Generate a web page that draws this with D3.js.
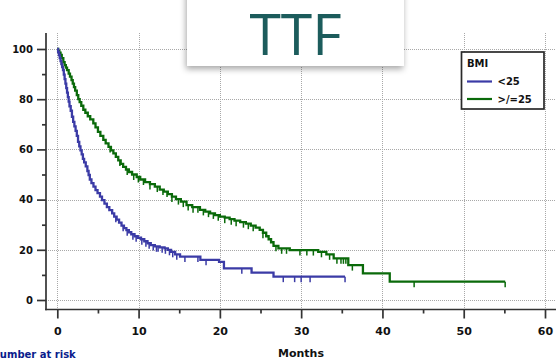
<!DOCTYPE html>
<html>
<head>
<meta charset="utf-8">
<script src="https://cdn.jsdelivr.net/npm/d3@7/dist/d3.min.js"></script>
<style>
  html, body { margin: 0; padding: 0; background: #fff; overflow: hidden; }
  svg { display: block; }
  text { font-family: "DejaVu Sans", sans-serif; font-weight: bold; fill: #111; }
</style>
</head>
<body>
<svg id="chart" width="556" height="359"></svg>
<script>
// ---- Data -----------------------------------------------------------
const title = "TTF";
const xTicks = [0, 10, 20, 30, 40, 50, 60];
const xMinorTicks = [5, 15, 25, 35, 45, 55];
const yTicks = [0, 20, 40, 60, 80, 100];
const yMinorTicks = [10, 30, 50, 70, 90];
const xLabel = "Months";
const riskLabel = "Number at risk";
const legendTitle = "BMI";
const groupNames = ["<25", ">/=25"];
const groupColors = ["#3b3ba6", "#0a6a0a"];

// Kaplan-Meier steps for BMI < 25: event times (months) and survival (%) after each event
const lowTimes = [0.10, 0.20, 0.30, 0.40, 0.50, 0.60, 0.70, 0.80, 0.90, 1.00, 1.10, 1.20, 1.30, 1.40,
  1.50, 1.65, 1.80, 1.95, 2.10, 2.25, 2.40, 2.55, 2.70, 2.85, 3.00, 3.15, 3.30, 3.50, 3.70, 3.85,
  4.00, 4.20, 4.45, 4.70, 4.95, 5.25, 5.50, 5.80, 6.10, 6.40, 6.75, 7.00, 7.30, 7.60, 7.90, 8.20,
  8.50, 8.80, 9.10, 9.50, 9.90, 10.30, 10.70, 11.10, 11.50, 12.00, 12.60, 13.20, 13.60, 14.00,
  14.50, 15.10, 17.60, 19.90, 20.50, 23.90, 26.60];
const lowSurv = [98.8, 97.6, 96.4, 95.2, 94.0, 92.8, 91.6, 89.8, 88.0, 86.2, 84.4, 82.6, 80.8, 79.0,
  77.2, 75.4, 73.0, 71.0, 69.2, 67.4, 65.4, 63.0, 61.2, 59.6, 58.0, 56.2, 54.8, 53.2, 51.4, 49.8,
  48.0, 46.6, 45.2, 43.8, 42.6, 41.2, 39.8, 38.4, 37.0, 35.8, 34.5, 33.2, 32.0, 30.8, 29.6, 28.6,
  27.8, 27.0, 26.2, 25.4, 24.8, 24.2, 23.4, 22.6, 21.9, 21.4, 21.0, 20.6, 20.0, 19.2,
  18.2, 17.3, 16.0, 15.2, 12.6, 10.9, 9.3];
const lowEnd = 35.4;
const lowCensored = [7.2, 8.1, 8.6, 9.3, 9.7, 10.4, 10.9, 11.3, 11.8, 12.2, 12.4, 12.9, 13.3, 13.8,
  14.2, 14.7, 15.7, 17.3, 18.3, 22.7, 27.8, 29.2, 30.0, 31.1, 35.4];

// Kaplan-Meier steps for BMI >= 25
const highTimes = [0.10, 0.25, 0.40, 0.55, 0.74, 0.90, 1.05, 1.20, 1.40, 1.56, 1.75, 1.90, 2.05, 2.20,
  2.40, 2.58, 2.75, 2.95, 3.20, 3.45, 3.75, 4.05, 4.43, 4.70, 5.00, 5.30, 5.66, 5.95, 6.30, 6.60,
  6.90, 7.20, 7.50, 7.80, 8.10, 8.45, 8.80, 9.20, 9.77, 10.20, 10.80, 11.40, 12.00, 12.60, 13.10,
  13.60, 14.10, 14.60, 15.20, 15.90, 16.60, 17.55, 18.20, 18.80, 19.40, 20.00, 20.60, 21.20, 21.80,
  22.50, 23.20, 23.80, 24.40, 24.90, 25.30, 25.70, 26.00, 26.30, 26.60, 27.20, 28.60, 32.10, 33.10,
  34.00, 35.80, 37.60, 40.90];
const highSurv = [99.3, 98.5, 97.6, 96.4, 94.8, 93.6, 92.6, 91.6, 90.2, 89.0, 87.6, 86.2, 84.8, 83.4,
  81.6, 80.0, 78.8, 77.4, 75.8, 74.6, 73.2, 72.0, 70.4, 68.8, 67.0, 65.4, 63.8, 62.4, 61.0, 59.6,
  58.4, 57.0, 55.6, 54.2, 53.0, 52.0, 51.0, 50.0, 49.0, 48.0, 47.0, 46.2, 45.2, 44.0, 43.2,
  42.2, 41.2, 40.2, 39.2, 37.8, 37.0, 35.9, 35.2, 34.5, 33.8, 33.2, 32.8, 32.2, 31.6,
  31.0, 30.4, 29.6, 28.8, 27.9, 26.8, 25.4, 24.2, 23.0, 21.6, 20.6, 19.9, 19.2, 18.2,
  16.6, 13.9, 10.6, 7.3];
const highEnd = 55.1;
const highCensored = [6.5, 7.7, 8.6, 9.4, 9.97, 10.6, 11.4, 12.3, 13.0, 13.5, 14.1, 14.9, 15.5, 16.1,
  16.7, 17.3, 17.97, 18.6, 19.2, 19.8, 20.6, 21.4, 22.0, 22.9, 23.5, 24.1, 25.3, 26.9, 27.6, 28.2,
  29.85, 30.7, 31.5, 32.5, 33.5, 34.4, 34.9, 35.2, 35.5, 36.3, 43.9, 55.1];

// ---- Layout ---------------------------------------------------------
const svg = d3.select("#chart");
const x = d3.scaleLinear().domain([0, 60]).range([57.3, 545]);
const y = d3.scaleLinear().domain([0, 100]).range([300, 49]);
const axisX = 46, axisY = 309.5;

const defs = svg.append("defs");
const shadow = defs.append("filter").attr("id", "shadow")
  .attr("x", "-20%").attr("y", "-20%").attr("width", "140%").attr("height", "150%");
shadow.append("feDropShadow").attr("dx", -1).attr("dy", 3).attr("stdDeviation", 3)
  .attr("flood-color", "#000").attr("flood-opacity", 0.35);

// Dotted grid
const grid = svg.append("g").attr("stroke", "#a8a8a8").attr("stroke-width", 1)
  .attr("stroke-dasharray", "1,1");
grid.selectAll(".gx").data(xTicks).join("line")
  .attr("x1", d => Math.round(x(d)) + 0.5).attr("x2", d => Math.round(x(d)) + 0.5)
  .attr("y1", 33).attr("y2", axisY);
grid.selectAll(".gy").data(yTicks).join("line")
  .attr("x1", axisX).attr("x2", 556)
  .attr("y1", d => Math.round(y(d)) + 0.5).attr("y2", d => Math.round(y(d)) + 0.5);

// Axes
const yAxis = d3.axisLeft(y).tickValues(yTicks).tickSize(9).tickPadding(4).tickFormat(d3.format("d"));
const gy = svg.append("g").attr("transform", `translate(${axisX},0)`).call(yAxis);
const yMinor = d3.axisLeft(y).tickValues(yMinorTicks).tickSize(4).tickFormat("");
const gym = svg.append("g").attr("transform", `translate(${axisX},0)`).call(yMinor);

const xAxis = d3.axisBottom(x).tickValues(xTicks).tickSize(9).tickPadding(9).tickFormat(d3.format("d"));
const gx = svg.append("g").attr("transform", `translate(0,${axisY})`).call(xAxis);
const xMinor = d3.axisBottom(x).tickValues(xMinorTicks).tickSize(4).tickFormat("");
const gxm = svg.append("g").attr("transform", `translate(0,${axisY})`).call(xMinor);

[gy, gym, gx, gxm].forEach(g => {
  g.select(".domain").remove();
  g.selectAll(".tick line").attr("stroke", "#333").attr("stroke-width", 1.7);
});
gy.selectAll(".tick text").attr("font-size", 10).attr("fill", "#111")
  .attr("font-family", "DejaVu Sans").attr("font-weight", "bold");
gx.selectAll(".tick text").attr("font-size", 11).attr("fill", "#111")
  .attr("font-family", "DejaVu Sans").attr("font-weight", "bold");

svg.append("line").attr("x1", axisX).attr("x2", axisX).attr("y1", 33).attr("y2", axisY + 0.8)
  .attr("stroke", "#333").attr("stroke-width", 1.7);
svg.append("line").attr("x1", axisX - 0.8).attr("x2", 556).attr("y1", axisY).attr("y2", axisY)
  .attr("stroke", "#333").attr("stroke-width", 1.7);

// Survival curves
const line = d3.line().x(d => x(d[0])).y(d => y(d[1])).curve(d3.curveStepAfter);
const groups = [
  { times: lowTimes, surv: lowSurv, end: lowEnd, cens: lowCensored, color: groupColors[0] },
  { times: highTimes, surv: highSurv, end: highEnd, cens: highCensored, color: groupColors[1] }
];
function survivalAt(g, t) {
  const i = d3.bisectRight(g.times, t);
  return i === 0 ? 100 : g.surv[i - 1];
}
groups.slice().reverse().forEach(g => {
  const pts = [[0, 100]].concat(g.times.map((t, i) => [t, g.surv[i]]));
  pts.push([g.end, g.surv[g.surv.length - 1]]);
  svg.append("path").datum(pts).attr("d", line)
    .attr("fill", "none").attr("stroke", g.color).attr("stroke-width", 2.3)
    .attr("stroke-linejoin", "miter");
  svg.append("g").selectAll("line").data(g.cens).join("line")
    .attr("x1", t => x(t)).attr("x2", t => x(t))
    .attr("y1", t => y(survivalAt(g, t))).attr("y2", t => y(survivalAt(g, t)) + 5.5)
    .attr("stroke", g.color).attr("stroke-width", 1.5);
});

// Axis titles
svg.append("text").attr("x", 301).attr("y", 357).attr("text-anchor", "middle")
  .attr("font-size", 11).text(xLabel);
svg.append("text").attr("x", -8.5).attr("y", 358).attr("font-size", 10)
  .style("fill", "#0a1c8c").text(riskLabel);

// Legend
const lg = svg.append("g");
lg.append("rect").attr("x", 461.5).attr("y", 52).attr("width", 82.5).attr("height", 57)
  .attr("fill", "#fff").attr("stroke", "#2a2a2a").attr("stroke-width", 1.7);
lg.append("text").attr("x", 467).attr("y", 67).attr("font-size", 10).text(legendTitle);
groupNames.forEach((name, i) => {
  const ly = 81.5 + i * 17.5;
  lg.append("line").attr("x1", 467).attr("x2", 492).attr("y1", ly).attr("y2", ly)
    .attr("stroke", groupColors[i]).attr("stroke-width", 2.2);
  lg.append("text").attr("x", 497.5).attr("y", ly + 3.8).attr("font-size", 10).text(name);
});

// Title card
svg.append("rect").attr("x", 187).attr("y", -12).attr("width", 217).attr("height", 78)
  .attr("fill", "#fff").attr("filter", "url(#shadow)");
svg.append("text").attr("x", 295.5).attr("y", 55).attr("text-anchor", "middle")
  .attr("font-size", 57).style("font-family", "'Open Sans', sans-serif").style("font-weight", 400)
  .style("fill", "#1c5c5c").text(title);
</script>
</body>
</html>
